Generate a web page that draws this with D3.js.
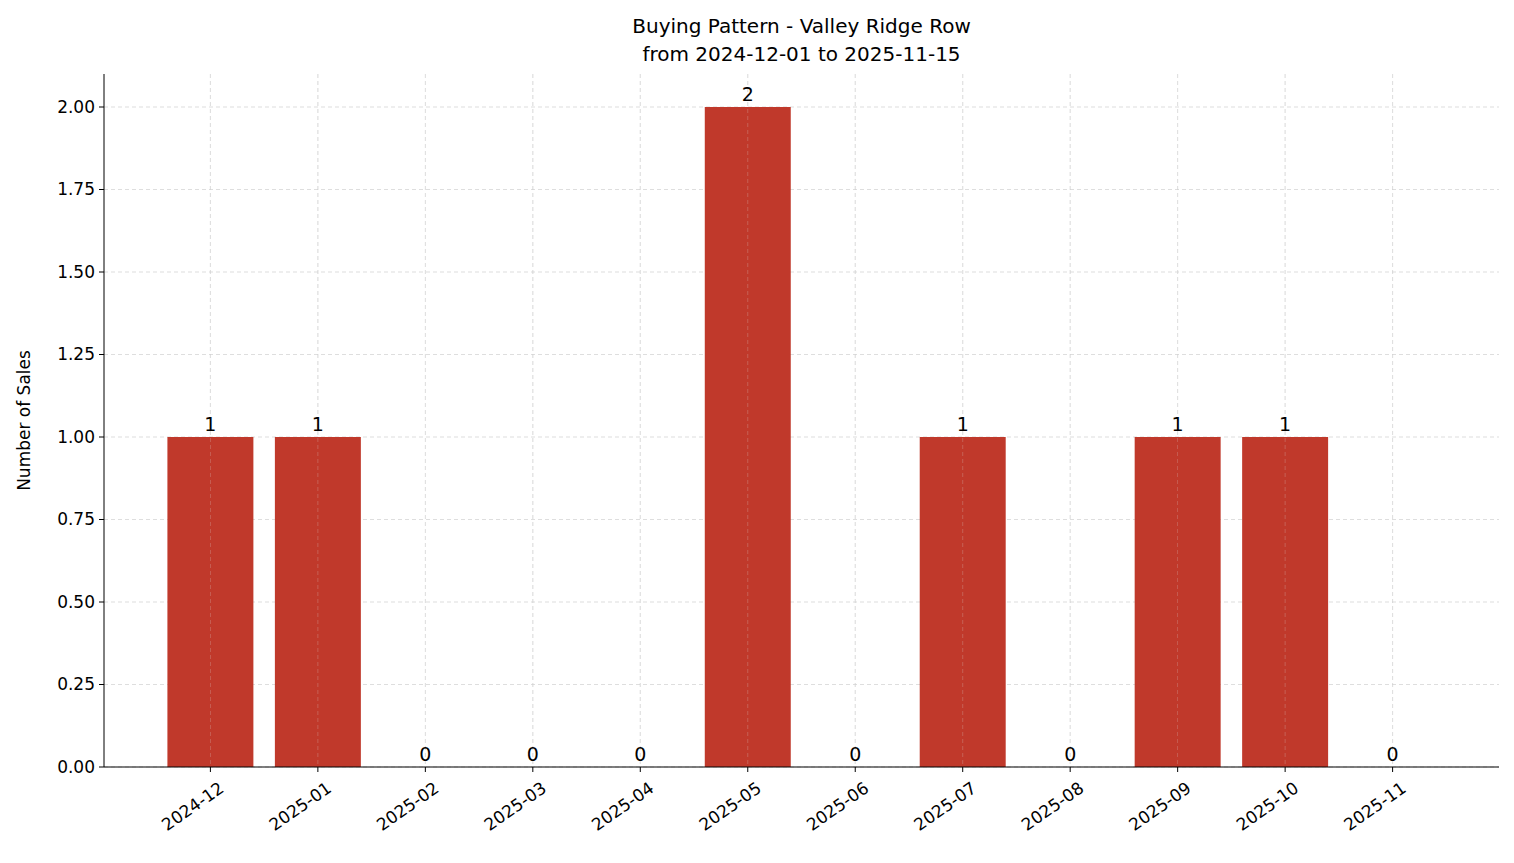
<!DOCTYPE html>
<html><head><meta charset="utf-8">
<script src="https://cdn.jsdelivr.net/npm/d3@7"></script>
<style>body{margin:0;background:#fff}svg{font-family:"DejaVu Sans",sans-serif}</style>
</head><body><svg id="c" width="1514" height="863"></svg>
<script>
const months=["2024-12","2025-01","2025-02","2025-03","2025-04","2025-05","2025-06","2025-07","2025-08","2025-09","2025-10","2025-11"];
const sales=[1,1,0,0,0,2,0,1,0,1,1,0];
const yTicks=[0,0.25,0.5,0.75,1,1.25,1.5,1.75,2];
const svg=d3.select("#c");
const L=104,R=1499,T=74,B=767;
const x=d3.scaleLinear().domain([-0.99,11.99]).range([L,R]);
const y=d3.scaleLinear().domain([0,2.1]).range([B,T]);
const g=svg.append("g");
// grid
g.selectAll(".gy").data(yTicks).join("line").attr("x1",L).attr("x2",R).attr("y1",d=>y(d)).attr("y2",d=>y(d)).attr("stroke","#ccc").attr("stroke-dasharray","4,3").attr("stroke-width",0.8).attr("opacity",0.8);
g.selectAll(".gx").data(months).join("line").attr("x1",(d,i)=>x(i)).attr("x2",(d,i)=>x(i)).attr("y1",T).attr("y2",B).attr("stroke","#ccc").attr("stroke-dasharray","4,3").attr("stroke-width",0.8).attr("opacity",0.8);
// bars
const w=x(0.8)-x(0);
g.selectAll(".bar").data(sales).join("rect").attr("x",(d,i)=>x(i)-w/2).attr("width",w).attr("y",d=>y(d)).attr("height",d=>B-y(d)).attr("fill","#c0392b");
// grid over bars (matplotlib draws grid above? keep subtle)
g.selectAll(".gx2").data(months).join("line").attr("x1",(d,i)=>x(i)).attr("x2",(d,i)=>x(i)).attr("y1",T).attr("y2",B).attr("stroke","#ddd").attr("stroke-dasharray","4,3").attr("stroke-width",0.6).attr("opacity",0.4);
g.selectAll(".vl").data(sales).join("text").attr("x",(d,i)=>x(i)).attr("y",d=>y(d)-13).attr("text-anchor","middle").attr("font-size",19).attr("dy","0.35em").style("font-size","19px").text(d=>d).attr("font-size",19);
// axes
svg.append("line").attr("x1",L).attr("x2",L).attr("y1",T).attr("y2",B).attr("stroke","#000");
svg.append("line").attr("x1",L).attr("x2",R).attr("y1",B).attr("y2",B).attr("stroke","#000");
svg.selectAll(".yt").data(yTicks).join("line").attr("x1",L-5).attr("x2",L).attr("y1",d=>y(d)).attr("y2",d=>y(d)).attr("stroke","#000");
svg.selectAll(".ytl").data(yTicks).join("text").attr("x",L-9).attr("y",d=>y(d)).attr("dy","0.35em").attr("text-anchor","end").attr("font-size",17).text(d=>d.toFixed(2));
svg.selectAll(".xt").data(months).join("line").attr("x1",(d,i)=>x(i)).attr("x2",(d,i)=>x(i)).attr("y1",B).attr("y2",B+5).attr("stroke","#000");
svg.selectAll(".xtl").data(months).join("text").attr("transform",(d,i)=>`translate(${x(i)+8},${B+14}) rotate(-35)`).attr("text-anchor","end").attr("dy","0.7em").attr("font-size",17).text(d=>d);
svg.append("text").attr("transform",`translate(30,${(T+B)/2}) rotate(-90)`).attr("text-anchor","middle").attr("font-size",17).text("Number of Sales");
svg.append("text").attr("x",(L+R)/2).attr("y",33).attr("text-anchor","middle").attr("font-size",20).text("Buying Pattern - Valley Ridge Row");
svg.append("text").attr("x",(L+R)/2).attr("y",61).attr("text-anchor","middle").attr("font-size",20).text("from 2024-12-01 to 2025-11-15");
</script></body></html>
